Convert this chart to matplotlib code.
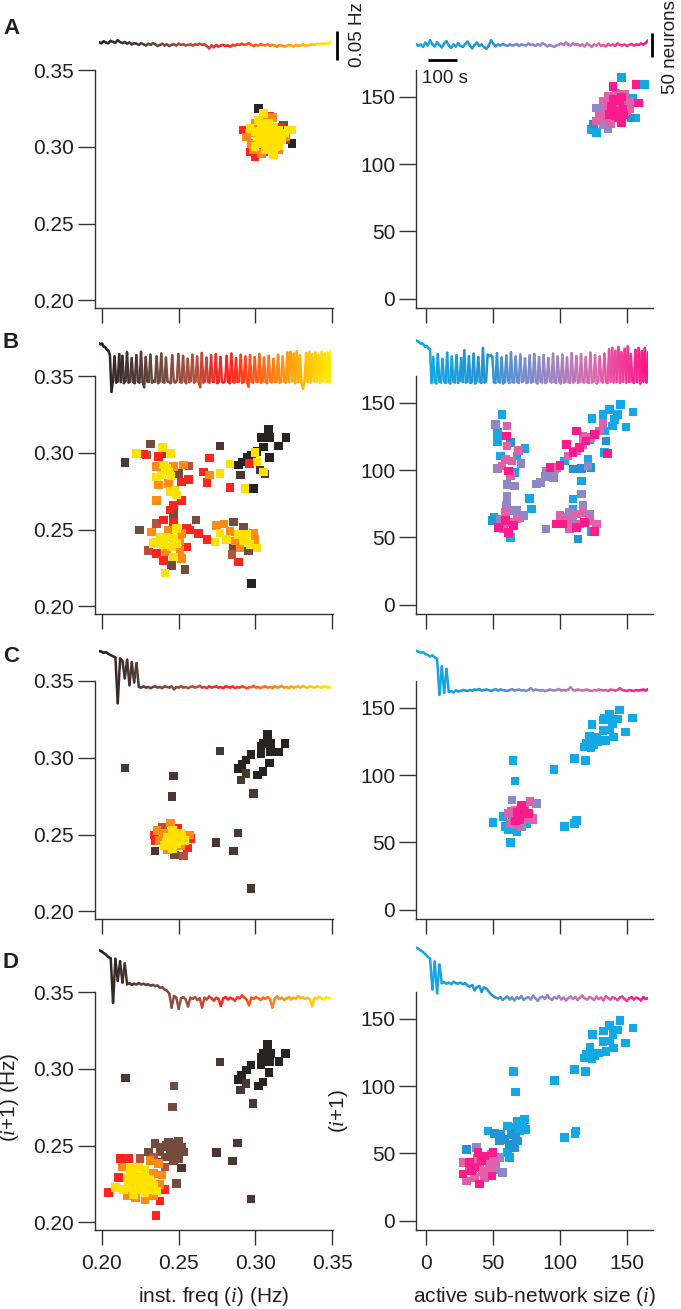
import numpy as np
import matplotlib
matplotlib.use('Agg')
import matplotlib.pyplot as plt
from matplotlib.collections import LineCollection
from matplotlib.colors import LinearSegmentedColormap
from matplotlib.ticker import FormatStrFormatter

plt.rcParams['font.family'] = ['Liberation Sans', 'DejaVu Sans']
plt.rcParams['mathtext.fontset'] = 'custom'
plt.rcParams['mathtext.it'] = 'Liberation Serif:italic'
plt.rcParams['mathtext.rm'] = 'Liberation Sans'

# ---------------- data ----------------
# time traces (evenly sampled over ~800 s)
freq_trace_A = [
    0.310, 0.308, 0.311, 0.309, 0.308, 0.312, 0.310, 0.309, 0.313, 0.310,
    0.308, 0.310, 0.307, 0.309, 0.306, 0.308, 0.307, 0.305, 0.308, 0.306,
    0.304, 0.307, 0.305, 0.308, 0.306, 0.303, 0.305, 0.307, 0.304, 0.306,
    0.303, 0.305, 0.306, 0.304, 0.307, 0.305, 0.306, 0.304, 0.305, 0.306,
    0.304, 0.306, 0.305, 0.307, 0.305, 0.306, 0.303, 0.299, 0.304, 0.301,
    0.305, 0.302, 0.304, 0.305, 0.303, 0.304, 0.302, 0.305, 0.304, 0.306,
    0.305, 0.307, 0.305, 0.306, 0.308, 0.305, 0.303, 0.305, 0.304, 0.306,
    0.305, 0.304, 0.306, 0.303, 0.305, 0.304, 0.302, 0.305, 0.304, 0.302,
    0.303, 0.305, 0.304, 0.302, 0.305, 0.303, 0.304, 0.306, 0.303, 0.304,
    0.305, 0.306, 0.305, 0.307, 0.306, 0.307, 0.306, 0.308, 0.307, 0.311]
freq_trace_B = [
    0.312, 0.310, 0.311, 0.306, 0.305, 0.301, 0.299, 0.292, 0.228, 0.247,
    0.289, 0.244, 0.246, 0.293, 0.245, 0.290, 0.243, 0.247, 0.296, 0.244,
    0.246, 0.286, 0.245, 0.243, 0.291, 0.246, 0.244, 0.297, 0.245, 0.236,
    0.288, 0.246, 0.245, 0.292, 0.244, 0.247, 0.245, 0.289, 0.243, 0.246,
    0.294, 0.245, 0.244, 0.287, 0.246, 0.245, 0.243, 0.291, 0.246, 0.244,
    0.248, 0.293, 0.245, 0.244, 0.290, 0.246, 0.243, 0.285, 0.245, 0.247,
    0.292, 0.244, 0.246, 0.289, 0.245, 0.236, 0.295, 0.244, 0.246, 0.287,
    0.245, 0.244, 0.291, 0.246, 0.245, 0.293, 0.243, 0.246, 0.288, 0.245,
    0.244, 0.247, 0.290, 0.245, 0.243, 0.294, 0.246, 0.244, 0.286, 0.245,
    0.246, 0.292, 0.244, 0.245, 0.289, 0.246, 0.237, 0.291, 0.245, 0.244,
    0.288, 0.246, 0.245, 0.293, 0.244, 0.246, 0.287, 0.245, 0.243, 0.290,
    0.246, 0.244, 0.285, 0.245, 0.246, 0.292, 0.244, 0.245, 0.289, 0.246,
    0.244, 0.296, 0.245, 0.297, 0.246, 0.294, 0.243, 0.298, 0.245, 0.291,
    0.244, 0.233, 0.246, 0.295, 0.245, 0.297, 0.244, 0.293, 0.246, 0.296,
    0.245, 0.292, 0.244, 0.297, 0.246, 0.294, 0.245, 0.296, 0.244, 0.298]
freq_trace_C = [
    0.309, 0.308, 0.306, 0.307, 0.304, 0.302, 0.300, 0.298, 0.219, 0.296,
    0.292, 0.262, 0.294, 0.250, 0.290, 0.255, 0.288, 0.247, 0.246, 0.248,
    0.246, 0.247, 0.245, 0.247, 0.248, 0.246, 0.247, 0.245, 0.248, 0.247,
    0.246, 0.248, 0.243, 0.247, 0.246, 0.248, 0.246, 0.247, 0.245, 0.247,
    0.248, 0.246, 0.247, 0.249, 0.246, 0.247, 0.245, 0.248, 0.246, 0.247,
    0.248, 0.246, 0.247, 0.245, 0.248, 0.247, 0.246, 0.248, 0.245, 0.247,
    0.246, 0.248, 0.247, 0.245, 0.246, 0.247, 0.249, 0.246, 0.247, 0.245,
    0.247, 0.248, 0.246, 0.247, 0.245, 0.248, 0.246, 0.247, 0.249, 0.246,
    0.247, 0.245, 0.248, 0.246, 0.247, 0.248, 0.246, 0.249, 0.247, 0.246,
    0.248, 0.247, 0.246, 0.248, 0.247, 0.246, 0.248, 0.247, 0.246, 0.247]
freq_trace_D = [
    0.311, 0.309, 0.306, 0.303, 0.299, 0.297, 0.220, 0.296, 0.258, 0.292,
    0.255, 0.288, 0.252, 0.254, 0.251, 0.253, 0.252, 0.254, 0.252, 0.253,
    0.251, 0.252, 0.250, 0.251, 0.249, 0.250, 0.246, 0.247, 0.243, 0.241,
    0.236, 0.212, 0.232, 0.229, 0.210, 0.228, 0.230, 0.226, 0.214, 0.229,
    0.227, 0.230, 0.225, 0.228, 0.212, 0.229, 0.226, 0.231, 0.228, 0.224,
    0.229, 0.227, 0.215, 0.228, 0.230, 0.226, 0.229, 0.227, 0.224, 0.230,
    0.228, 0.233, 0.229, 0.226, 0.216, 0.229, 0.227, 0.230, 0.228, 0.225,
    0.229, 0.227, 0.230, 0.226, 0.212, 0.228, 0.231, 0.227, 0.229, 0.225,
    0.228, 0.230, 0.226, 0.229, 0.227, 0.232, 0.228, 0.230, 0.227, 0.229,
    0.226, 0.214, 0.229, 0.227, 0.231, 0.228, 0.226, 0.230, 0.228, 0.229]

size_trace_A = [
    142, 138, 141, 136, 145, 139, 150, 141, 137, 146,
    140, 135, 143, 148, 139, 134, 141, 137, 144, 138,
    136, 142, 147, 139, 133, 140, 145, 138, 141, 136,
    132, 138, 150, 143, 137, 141, 139, 142, 140, 138,
    141, 139, 140, 142, 138, 141, 140, 139, 143, 140,
    141, 138, 142, 139, 144, 141, 137, 140, 138, 136,
    139, 141, 143, 140, 145, 141, 139, 143, 140, 142,
    138, 141, 137, 143, 140, 136, 141, 139, 143, 138,
    140, 137, 142, 139, 141, 138, 143, 140, 139, 141,
    138, 140, 142, 139, 141, 140, 143, 141, 144, 150]
size_trace_B = [
    147, 145, 143, 140, 141, 137, 133, 135, 130, 128,
    58, 112, 60, 57, 118, 61, 59, 108, 62, 58,
    121, 60, 57, 113, 61, 59, 116, 58, 62, 110,
    60, 126, 59, 61, 114, 58, 60, 119, 57, 62,
    112, 60, 58, 131, 59, 61, 117, 114, 116, 113,
    60, 58, 120, 61, 59, 111, 57, 60, 115, 62,
    58, 122, 60, 59, 113, 61, 58, 117, 60, 62,
    109, 58, 60, 115, 59, 61, 118, 60, 57, 112,
    61, 59, 116, 58, 60, 110, 62, 59, 119, 60,
    58, 113, 61, 57, 117, 59, 61, 111, 60, 58,
    120, 59, 62, 114, 58, 60, 118, 61, 59, 112,
    60, 58, 121, 59, 61, 116, 57, 60, 113, 62,
    59, 119, 60, 58, 128, 61, 131, 59, 125, 60,
    133, 58, 122, 61, 129, 59, 134, 60, 118, 62,
    58, 127, 60, 131, 57, 124, 61, 130, 59, 122]
size_trace_C = [
    150, 148, 146, 147, 143, 141, 138, 140, 136, 133,
    58, 117, 62, 112, 64, 66, 63, 67, 65, 66,
    68, 67, 66, 68, 67, 69, 68, 70, 67, 68,
    69, 68, 66, 68, 70, 67, 69, 68, 67, 66,
    68, 70, 67, 68, 69, 67, 68, 66, 68, 72,
    67, 69, 68, 67, 68, 66, 67, 69, 68, 67,
    68, 70, 67, 68, 67, 69, 74, 68, 67, 69,
    68, 67, 68, 69, 67, 66, 68, 67, 69, 68,
    67, 68, 66, 69, 68, 67, 68, 72, 68, 67,
    66, 68, 67, 66, 68, 67, 68, 69, 67, 70]
size_trace_D = [
    147, 145, 141, 138, 133, 128, 124, 60, 118, 52,
    112, 73, 75, 72, 74, 71, 76, 73, 72, 74,
    71, 73, 68, 66, 69, 58, 65, 67, 55, 64,
    62, 56, 50, 46, 43, 41, 44, 38, 42, 45,
    39, 43, 37, 44, 41, 46, 38, 42, 44, 39,
    47, 41, 36, 43, 45, 40, 48, 42, 38, 44,
    41, 46, 39, 43, 37, 42, 45, 40, 44, 38,
    43, 47, 41, 39, 44, 42, 38, 45, 40, 43,
    37, 46, 42, 39, 44, 41, 38, 43, 45, 40,
    36, 42, 44, 39, 43, 41, 37, 44, 40, 42]

# return-map points: (value i, value i+1, phase of the recording)
# freq phases: k dark, d dark brown, b brown, n brown-red, r red, o orange, y yellow
freq_pts_A = [
    (0.3020, 0.3250, 'k'), (0.3238, 0.3022, 'k'), (0.3194, 0.3043, 'b'), (0.3183, 0.3141, 'b'),
    (0.2921, 0.3109, 'r'), (0.3096, 0.3196, 'r'), (0.2998, 0.2935, 'r'), (0.3052, 0.2967, 'r'),
    (0.2965, 0.2967, 'r'), (0.3160, 0.3130, 'r'),
    (0.2943, 0.3065, 'o'), (0.2976, 0.3022, 'o'), (0.2998, 0.3152, 'o'), (0.3063, 0.3163, 'o'),
    (0.2987, 0.2978, 'o'), (0.3041, 0.2957, 'o'), (0.3151, 0.2978, 'o'), (0.3194, 0.3065, 'o'),
    (0.3110, 0.3190, 'o'), (0.2960, 0.3090, 'o'),
    (0.3041, 0.3109, 'y'), (0.3085, 0.3109, 'y'), (0.3129, 0.3087, 'y'), (0.3063, 0.3065, 'y'),
    (0.3107, 0.3043, 'y'), (0.3041, 0.3022, 'y'), (0.3085, 0.3000, 'y'), (0.3129, 0.3000, 'y'),
    (0.3009, 0.3065, 'y'), (0.3151, 0.3109, 'y'), (0.3052, 0.3217, 'y'), (0.3216, 0.3109, 'y'),
    (0.2965, 0.3120, 'y'), (0.2998, 0.3000, 'y'), (0.3118, 0.2946, 'y'), (0.3172, 0.3043, 'y'),
    (0.3238, 0.3109, 'y'), (0.3085, 0.3150, 'y'), (0.3020, 0.3170, 'y'), (0.3150, 0.3010, 'y'),
    (0.3063, 0.3109, 'y'), (0.3107, 0.3087, 'y'), (0.3020, 0.3043, 'y'), (0.3063, 0.3020, 'y'),
    (0.3107, 0.2980, 'y'), (0.3150, 0.3065, 'y'), (0.3041, 0.3150, 'y'), (0.3190, 0.3090, 'y'),
    (0.3063, 0.2980, 'y'), (0.3000, 0.3100, 'y'), (0.3120, 0.3130, 'y'), (0.3090, 0.3060, 'y')]
freq_pts_B = [
    (0.3085, 0.3152, 'k'), (0.3041, 0.3100, 'k'), (0.3096, 0.3100, 'k'), (0.3150, 0.3043, 'k'),
    (0.3198, 0.3098, 'k'), (0.3091, 0.2970, 'k'), (0.3052, 0.3039, 'k'), (0.3009, 0.3007, 'k'),
    (0.2976, 0.2985, 'k'), (0.2944, 0.2970, 'k'), (0.2911, 0.2941, 'k'), (0.2889, 0.2920, 'k'),
    (0.2987, 0.2767, 'k'), (0.2976, 0.2148, 'k'),
    (0.2904, 0.2854, 'd'), (0.2770, 0.3043, 'd'), (0.2150, 0.2935, 'd'), (0.3063, 0.2861, 'd'),
    (0.3030, 0.2887, 'd'),
    (0.2835, 0.2926, 'y'), (0.2998, 0.3000, 'y'), (0.3009, 0.2941, 'y'), (0.3052, 0.2876, 'y'),
    (0.2933, 0.2767, 'y'), (0.2770, 0.2865, 'y'),
    (0.2961, 0.2930, 'r'), (0.2835, 0.2774, 'r'), (0.2700, 0.2967, 'r'), (0.2661, 0.2876, 'r'),
    (0.2700, 0.2854, 'o'), (0.2683, 0.2806, 'r'),
    (0.2226, 0.2996, 'y'), (0.2274, 0.2991, 'r'), (0.2291, 0.2985, 'n'), (0.2317, 0.3057, 'b'),
    (0.2396, 0.3033, 'y'), (0.2367, 0.2974, 'r'), (0.2411, 0.2996, 'b'), (0.2448, 0.2996, 'y'),
    (0.2530, 0.2920, 'o'), (0.2567, 0.2915, 'n'), (0.2357, 0.2909, 'o'), (0.2400, 0.2920, 'y'),
    (0.2433, 0.2876, 'y'), (0.2389, 0.2854, 'y'), (0.2357, 0.2843, 'y'), (0.2465, 0.2909, 'o'),
    (0.2498, 0.2865, 'b'), (0.2520, 0.2811, 'r'), (0.2563, 0.2826, 'r'), (0.2433, 0.2800, 'o'),
    (0.2367, 0.2789, 'o'), (0.2443, 0.2746, 'y'), (0.2476, 0.2756, 'y'), (0.2357, 0.2691, 'o'),
    (0.2520, 0.2691, 'r'), (0.2465, 0.2659, 'r'), (0.2443, 0.2626, 'r'), (0.2465, 0.2604, 'b'),
    (0.2613, 0.2561, 'b'), (0.2487, 0.2724, 'y'), (0.2420, 0.2900, 'y'), (0.2450, 0.2850, 'y'),
    (0.2243, 0.2496, 'b'), (0.2324, 0.2485, 'o'), (0.2400, 0.2561, 'r'), (0.2465, 0.2550, 'r'),
    (0.2357, 0.2539, 'n'), (0.2433, 0.2496, 'o'), (0.2487, 0.2507, 'y'), (0.2520, 0.2474, 'o'),
    (0.2552, 0.2507, 'r'), (0.2574, 0.2496, 'r'), (0.2378, 0.2452, 'y'), (0.2422, 0.2452, 'y'),
    (0.2465, 0.2441, 'y'), (0.2509, 0.2430, 'o'), (0.2346, 0.2419, 'y'), (0.2400, 0.2398, 'y'),
    (0.2454, 0.2387, 'y'), (0.2509, 0.2365, 'o'), (0.2552, 0.2387, 'r'), (0.2302, 0.2365, 'n'),
    (0.2357, 0.2343, 'r'), (0.2422, 0.2354, 'o'), (0.2465, 0.2322, 'y'), (0.2520, 0.2311, 'o'),
    (0.2400, 0.2300, 'r'), (0.2454, 0.2267, 'b'), (0.2411, 0.2217, 'y'), (0.2541, 0.2239, 'b'),
    (0.2335, 0.2409, 'y'), (0.2487, 0.2409, 'y'),
    (0.2748, 0.2528, 'o'), (0.2796, 0.2535, 'o'), (0.2857, 0.2550, 'b'), (0.2922, 0.2517, 'b'),
    (0.2987, 0.2478, 'o'), (0.2770, 0.2478, 'y'), (0.2835, 0.2489, 'o'), (0.2889, 0.2467, 'y'),
    (0.2944, 0.2467, 'y'), (0.2998, 0.2435, 'o'), (0.2813, 0.2435, 'y'), (0.2867, 0.2424, 'o'),
    (0.2922, 0.2424, 'y'), (0.2965, 0.2402, 'y'), (0.3009, 0.2380, 'y'), (0.2857, 0.2391, 'b'),
    (0.2900, 0.2380, 'o'), (0.2954, 0.2359, 'b'), (0.2846, 0.2337, 'n'), (0.2889, 0.2289, 'r'),
    (0.2628, 0.2474, 'r'), (0.2683, 0.2435, 'r'), (0.2737, 0.2419, 'y')]
freq_pts_C = [
    (0.2150, 0.2933, 'd'), (0.2465, 0.2880, 'd'), (0.2457, 0.2746, 'd'), (0.2770, 0.3043, 'd'),
    (0.2743, 0.2448, 'd'), (0.2885, 0.2511, 'd'), (0.2857, 0.2393, 'd'), (0.2972, 0.2148, 'd'),
    (0.2346, 0.2393, 'd'),
    (0.3080, 0.3152, 'k'), (0.3048, 0.3093, 'k'), (0.3098, 0.3093, 'k'), (0.3193, 0.3093, 'k'),
    (0.3152, 0.3039, 'k'), (0.3098, 0.3039, 'k'), (0.3037, 0.3024, 'k'), (0.2972, 0.3022, 'k'),
    (0.2939, 0.2985, 'k'), (0.2911, 0.2957, 'k'), (0.2885, 0.2930, 'k'), (0.2939, 0.2898, 'd'),
    (0.2906, 0.2854, 'd'), (0.3015, 0.2887, 'k'), (0.3048, 0.2909, 'k'), (0.3091, 0.2967, 'k'),
    (0.2989, 0.2767, 'd'), (0.3037, 0.3072, 'k'),
    (0.2446, 0.2576, 'o'), (0.2396, 0.2550, 'n'), (0.2359, 0.2528, 'o'), (0.2494, 0.2539, 'r'),
    (0.2341, 0.2496, 'r'), (0.2407, 0.2507, 'o'), (0.2461, 0.2528, 'y'), (0.2515, 0.2507, 'y'),
    (0.2570, 0.2496, 'o'), (0.2374, 0.2463, 'o'), (0.2428, 0.2485, 'y'), (0.2483, 0.2476, 'y'),
    (0.2537, 0.2463, 'y'), (0.2580, 0.2476, 'r'), (0.2407, 0.2430, 'y'), (0.2461, 0.2424, 'y'),
    (0.2515, 0.2430, 'o'), (0.2428, 0.2400, 'o'), (0.2472, 0.2367, 'b'), (0.2533, 0.2361, 'n'),
    (0.2559, 0.2413, 'r'), (0.2346, 0.2463, 'r'), (0.2450, 0.2450, 'y'), (0.2490, 0.2440, 'y'),
    (0.2440, 0.2470, 'y'), (0.2480, 0.2500, 'y'), (0.2420, 0.2450, 'y'), (0.2500, 0.2460, 'y'),
    (0.2460, 0.2410, 'y'), (0.2520, 0.2480, 'y')]
freq_pts_D = [
    (0.3078, 0.3159, 'k'), (0.3050, 0.3100, 'k'), (0.3100, 0.3100, 'k'), (0.3195, 0.3100, 'k'),
    (0.3152, 0.3046, 'k'), (0.3093, 0.3046, 'k'), (0.3035, 0.3028, 'k'), (0.2970, 0.3024, 'k'),
    (0.2942, 0.2991, 'k'), (0.2909, 0.2959, 'k'), (0.2888, 0.2930, 'k'), (0.2937, 0.2904, 'd'),
    (0.2903, 0.2861, 'd'), (0.3018, 0.2889, 'k'), (0.3050, 0.2915, 'k'), (0.3089, 0.2974, 'k'),
    (0.2985, 0.2774, 'd'), (0.3039, 0.3074, 'k'),
    (0.2152, 0.2941, 'd'), (0.2470, 0.2887, 'b'), (0.2459, 0.2752, 'b'), (0.2769, 0.3043, 'd'),
    (0.2747, 0.2454, 'd'), (0.2883, 0.2517, 'd'), (0.2851, 0.2400, 'd'), (0.2970, 0.2152, 'd'),
    (0.2520, 0.2354, 'd'), (0.2487, 0.2252, 'b'),
    (0.2303, 0.2459, 'b'), (0.2346, 0.2513, 'b'), (0.2390, 0.2491, 'b'), (0.2433, 0.2524, 'b'),
    (0.2476, 0.2513, 'b'), (0.2520, 0.2491, 'b'), (0.2444, 0.2480, 'b'), (0.2487, 0.2459, 'b'),
    (0.2530, 0.2459, 'b'), (0.2411, 0.2426, 'b'), (0.2465, 0.2404, 'b'), (0.2498, 0.2415, 'b'),
    (0.2379, 0.2459, 'b'), (0.2336, 0.2426, 'n'), (0.2368, 0.2393, 'd'),
    (0.2420, 0.2500, 'b'), (0.2460, 0.2450, 'b'), (0.2500, 0.2530, 'b'),
    (0.2043, 0.2193, 'r'), (0.2351, 0.2043, 'r'), (0.2119, 0.2415, 'r'), (0.2173, 0.2415, 'r'),
    (0.2249, 0.2415, 'n'), (0.2314, 0.2404, 'o'), (0.2368, 0.2383, 'o'), (0.2411, 0.2361, 'n'),
    (0.2130, 0.2361, 'o'), (0.2184, 0.2350, 'y'), (0.2238, 0.2361, 'y'), (0.2281, 0.2339, 'y'),
    (0.2336, 0.2317, 'o'), (0.2390, 0.2307, 'o'), (0.2108, 0.2291, 'r'), (0.2162, 0.2291, 'y'),
    (0.2217, 0.2280, 'y'), (0.2271, 0.2269, 'y'), (0.2325, 0.2259, 'y'), (0.2379, 0.2248, 'o'),
    (0.2411, 0.2215, 'r'), (0.2087, 0.2226, 'y'), (0.2141, 0.2215, 'y'), (0.2195, 0.2226, 'y'),
    (0.2249, 0.2215, 'y'), (0.2303, 0.2215, 'y'), (0.2357, 0.2204, 'y'), (0.2162, 0.2171, 'o'),
    (0.2217, 0.2161, 'o'), (0.2281, 0.2150, 'o'), (0.2336, 0.2171, 'o'), (0.2379, 0.2139, 'r'),
    (0.2206, 0.2183, 'y'), (0.2260, 0.2302, 'y'), (0.2314, 0.2280, 'y'),
    (0.2200, 0.2330, 'y'), (0.2250, 0.2240, 'y'), (0.2280, 0.2190, 'y'), (0.2230, 0.2300, 'y'),
    (0.2170, 0.2250, 'y'), (0.2300, 0.2320, 'o'), (0.2340, 0.2240, 'y')]

# size phases: c cyan, b blue, l lavender, p pink, m magenta
size_pts_A = [
    (145.8, 164.5, 'c'), (163.1, 159.1, 'c'), (123.4, 125.8, 'c'), (127.1, 123.4, 'c'),
    (156.9, 134.4, 'c'), (154.4, 149.3, 'c'), (153.2, 134.4, 'b'), (125.0, 130.0, 'b'),
    (127.1, 141.8, 'l'), (132.1, 129.5, 'l'), (130.0, 136.0, 'l'), (131.0, 141.0, 'l'),
    (136.0, 126.0, 'l'),
    (132.1, 146.8, 'p'), (135.8, 150.5, 'p'), (142.0, 153.0, 'p'), (148.2, 151.7, 'p'),
    (152.0, 146.8, 'p'), (149.5, 139.4, 'p'), (144.5, 135.7, 'p'), (137.1, 132.0, 'p'),
    (129.6, 135.7, 'p'), (127.1, 132.0, 'p'), (134.6, 139.4, 'p'), (140.7, 141.8, 'p'),
    (145.8, 144.3, 'p'), (135.0, 145.0, 'p'), (150.0, 144.0, 'p'), (133.0, 135.0, 'p'),
    (138.0, 130.0, 'p'), (152.0, 141.0, 'p'),
    (139.5, 157.9, 'm'), (156.9, 159.1, 'm'), (158.7, 145.6, 'm'), (145.8, 130.7, 'm'),
    (138.3, 143.1, 'm'), (142.0, 139.4, 'm'), (144.5, 146.8, 'm'), (137.1, 136.9, 'm'),
    (147.0, 140.6, 'm'), (143.2, 134.4, 'm'), (140.0, 148.0, 'm'), (146.0, 150.0, 'm'),
    (141.0, 136.0, 'm'), (148.0, 137.0, 'm')]
size_pts_B = [
    (56.7, 141.4, 'c'), (51.8, 134.0, 'l'), (53.5, 127.8, 'c'), (53.5, 121.1, 'c'),
    (60.4, 132.7, 'p'), (59.9, 125.3, 'm'), (55.5, 110.5, 'c'), (60.4, 117.9, 'p'),
    (62.9, 120.4, 'b'), (59.2, 108.1, 'p'), (64.1, 106.8, 'p'), (56.7, 103.1, 'p'),
    (53.5, 101.1, 'l'), (61.7, 99.4, 'm'), (66.6, 98.2, 'c'), (67.8, 110.5, 'c'),
    (74.0, 115.9, 'c'), (70.8, 105.1, 'l'), (62.9, 95.7, 'p'), (60.4, 89.1, 'l'),
    (65.9, 88.3, 'l'), (60.4, 80.4, 'l'), (69.1, 114.7, 'p'),
    (49.3, 62.4, 'b'), (50.6, 64.9, 'c'), (55.5, 63.6, 'l'), (54.3, 57.5, 'm'),
    (59.2, 68.6, 'p'), (64.1, 69.8, 'l'), (67.8, 69.8, 'l'), (70.3, 64.9, 'l'),
    (59.2, 62.4, 'm'), (62.9, 61.2, 'p'), (58.0, 56.2, 'p'), (61.7, 53.8, 'm'),
    (65.4, 58.7, 'm'), (67.8, 63.6, 'p'), (62.9, 50.1, 'c'), (59.9, 73.5, 'l'),
    (72.8, 66.1, 'l'), (89.6, 56.2, 'l'),
    (78.9, 71.0, 'c'), (77.2, 78.9, 'c'), (85.6, 90.8, 'l'), (88.8, 95.2, 'l'),
    (82.6, 89.6, 'l'), (96.2, 100.7, 'l'), (95.0, 94.5, 'l'), (97.5, 101.9, 'p'),
    (99.9, 103.6, 'm'), (103.6, 106.8, 'c'), (106.1, 110.5, 'p'), (109.8, 113.0, 'm'),
    (112.2, 114.2, 'p'), (114.7, 116.7, 'm'), (117.2, 119.2, 'p'), (119.6, 121.6, 'm'),
    (123.3, 124.1, 'p'), (125.8, 126.6, 'm'), (129.5, 129.0, 'p'), (132.0, 135.2, 'p'),
    (104.8, 119.2, 'm'), (112.2, 129.0, 'm'), (117.2, 125.3, 'p'), (122.1, 122.9, 'c'),
    (124.1, 138.2, 'c'), (132.0, 141.4, 'c'), (136.9, 145.1, 'c'), (145.1, 148.8, 'c'),
    (143.1, 141.4, 'c'), (140.6, 137.7, 'c'), (139.4, 132.7, 'c'), (149.3, 132.2, 'c'),
    (154.7, 143.1, 'c'), (133.2, 129.0, 'c'), (134.5, 121.6, 'b'), (133.2, 113.0, 'c'),
    (135.7, 112.2, 'm'), (120.9, 108.1, 'c'), (123.3, 101.9, 'b'), (115.9, 101.1, 'b'),
    (120.9, 103.1, 'l'), (109.8, 100.7, 'b'), (115.9, 92.0, 'c'), (109.8, 78.5, 'c'),
    (115.9, 82.2, 'l'), (92.5, 101.9, 'm'), (90.0, 99.4, 'l'),
    (99.9, 66.1, 'p'), (102.4, 64.9, 'l'), (107.3, 68.6, 'l'), (112.2, 67.3, 'p'),
    (117.2, 68.6, 'p'), (122.1, 67.3, 'l'), (97.5, 60.0, 'm'), (102.4, 60.0, 'm'),
    (106.1, 62.4, 'p'), (109.8, 61.2, 'l'), (114.7, 60.0, 'p'), (118.4, 61.2, 'm'),
    (122.1, 62.4, 'p'), (127.1, 60.0, 'p'), (107.3, 56.2, 'p'), (112.2, 57.5, 'm'),
    (123.3, 54.3, 'c'), (125.8, 54.3, 'm'), (113.5, 48.8, 'b'), (109.8, 71.0, 'c'),
    (117.2, 73.5, 'l')]
size_pts_C = [
    (64.9, 111.0, 'c'), (66.6, 95.7, 'c'), (50.1, 64.6, 'c'), (62.9, 49.8, 'c'),
    (95.7, 104.1, 'c'), (111.0, 112.2, 'c'), (103.6, 61.7, 'c'), (111.0, 64.1, 'c'),
    (112.2, 66.1, 'c'),
    (119.2, 111.0, 'c'), (118.4, 120.9, 'c'), (120.9, 122.1, 'c'), (123.3, 120.4, 'c'),
    (125.1, 122.9, 'c'), (122.1, 128.8, 'c'), (128.3, 124.6, 'c'), (134.0, 125.8, 'c'),
    (132.0, 133.2, 'c'), (124.1, 137.7, 'c'), (132.5, 141.1, 'c'), (136.9, 145.1, 'c'),
    (144.3, 148.5, 'c'), (143.1, 141.9, 'c'), (139.4, 138.2, 'c'), (136.9, 133.7, 'c'),
    (139.9, 128.3, 'c'), (148.8, 132.0, 'c'), (154.2, 142.6, 'c'), (119.6, 123.4, 'c'),
    (127.1, 128.3, 'c'), (133.2, 142.6, 'c'),
    (57.5, 69.1, 'c'), (59.2, 61.7, 'c'), (61.7, 59.2, 'c'), (67.8, 58.0, 'c'),
    (75.2, 64.1, 'c'), (64.1, 69.1, 'b'),
    (64.1, 81.4, 'l'), (82.6, 78.9, 'l'), (79.7, 66.6, 'l'), (71.5, 61.7, 'l'),
    (61.7, 71.5, 'p'), (66.6, 74.0, 'p'), (71.5, 77.7, 'm'), (77.7, 80.2, 'p'),
    (72.8, 72.8, 'm'), (69.1, 69.1, 'm'), (65.4, 65.4, 'p'), (72.8, 67.8, 'p'),
    (76.5, 71.5, 'm'), (62.9, 64.1, 'p'), (67.8, 62.9, 'p'), (70.3, 74.0, 'm'),
    (79.7, 67.8, 'p'), (68.0, 72.0, 'm'), (74.0, 76.0, 'p'), (70.0, 67.0, 'm'),
    (64.0, 73.0, 'p'), (75.0, 69.0, 'p'), (67.0, 66.0, 'm')]
size_pts_D = [
    (65.2, 111.0, 'c'), (66.7, 95.7, 'c'), (95.9, 104.1, 'c'), (111.0, 112.2, 'c'),
    (103.5, 61.7, 'c'), (111.2, 64.6, 'c'), (112.0, 66.5, 'c'),
    (119.1, 111.0, 'c'), (118.4, 120.9, 'c'), (121.6, 122.1, 'c'), (124.0, 120.4, 'c'),
    (125.8, 122.9, 'c'), (122.3, 128.8, 'c'), (129.0, 124.6, 'c'), (134.4, 125.8, 'c'),
    (132.2, 133.2, 'c'), (124.3, 138.2, 'c'), (132.7, 141.1, 'c'), (137.1, 145.1, 'c'),
    (145.0, 148.8, 'c'), (143.3, 141.9, 'c'), (139.6, 138.2, 'c'), (137.1, 133.7, 'c'),
    (140.1, 128.3, 'c'), (149.0, 132.0, 'c'), (154.4, 143.1, 'c'), (120.0, 123.4, 'c'),
    (46.2, 66.6, 'c'), (51.2, 64.6, 'b'), (54.9, 59.2, 'b'), (61.0, 70.3, 'c'),
    (66.0, 69.1, 'c'), (68.4, 74.0, 'c'), (73.4, 75.2, 'c'), (74.6, 67.8, 'c'),
    (63.5, 64.1, 'b'), (67.2, 61.7, 'b'), (69.7, 66.6, 'c'), (62.3, 56.7, 'b'),
    (66.0, 54.3, 'b'), (61.0, 50.6, 'c'), (62.3, 46.9, 'c'), (68.4, 59.2, 'b'),
    (58.6, 60.4, 'b'), (56.1, 64.1, 'b'), (72.1, 71.9, 'c'),
    (30.1, 53.0, 'b'), (37.6, 54.3, 'l'), (48.7, 49.3, 'l'), (57.3, 35.8, 'l'),
    (52.4, 38.2, 'l'), (54.9, 46.9, 'l'), (27.7, 43.2, 'p'), (27.7, 34.5, 'm'),
    (30.1, 29.6, 'p'), (40.0, 27.1, 'm'), (49.4, 33.3, 'm'), (49.9, 50.6, 'm'),
    (38.8, 50.6, 'm'), (32.6, 43.2, 'm'), (35.1, 37.0, 'p'), (40.0, 39.5, 'p'),
    (41.3, 44.4, 'm'), (45.0, 44.4, 'p'), (46.2, 37.0, 'p'), (43.7, 32.1, 'p'),
    (36.3, 32.1, 'p'), (52.4, 43.2, 'p'), (33.8, 37.0, 'm'), (48.7, 39.5, 'p'),
    (38.0, 46.0, 'p'), (44.0, 48.0, 'm'), (42.0, 36.0, 'p'), (36.0, 40.0, 'm'),
    (47.0, 42.0, 'p'), (32.0, 38.0, 'p'), (50.0, 45.0, 'l')]

freq_phase = {'k': 0.02, 'd': 0.14, 'b': 0.27, 'n': 0.42, 'r': 0.56, 'o': 0.78, 'y': 0.98}
size_phase = {'c': 0.04, 'b': 0.3, 'l': 0.55, 'p': 0.8, 'm': 0.98}

freq_cmap = LinearSegmentedColormap.from_list('freq', [
    (0.0, '#231f20'), (0.25, '#6b4a3f'), (0.42, '#b5523d'), (0.55, '#ff1f1f'),
    (0.78, '#ff8a14'), (1.0, '#ffeb00')])
size_cmap = LinearSegmentedColormap.from_list('size', [
    (0.0, '#12abe8'), (0.3, '#2393d3'), (0.45, '#6f8fcf'), (0.58, '#9a86c3'),
    (0.78, '#dd68ac'), (1.0, '#ff138a')])

# ---------------- layout ----------------
W, H = 681, 1309
fig = plt.figure(figsize=(W / 100, H / 100), dpi=100)
INK = '#231f20'


def px_axes(x0, y0, x1, y1):
    return fig.add_axes([x0 / W, 1 - y1 / H, (x1 - x0) / W, (y1 - y0) / H])


def style_scatter(ax, show_xlabels):
    for s in ['top', 'right']:
        ax.spines[s].set_visible(False)
    for s in ['left', 'bottom']:
        ax.spines[s].set_linewidth(1.0)
        ax.spines[s].set_color('#333333')
    ax.tick_params(axis='y', direction='out', length=12, width=1, color='#333333',
                   labelsize=15, pad=3, labelcolor=INK)
    ax.tick_params(axis='x', direction='out', length=11, width=1, color='#333333',
                   labelsize=15, pad=6, labelcolor=INK, labelbottom=show_xlabels)
    ax.patch.set_alpha(0)


def draw_points(ax, pts, cmap, phase):
    pts = sorted(pts, key=lambda p: phase[p[2]])
    ax.scatter([p[0] for p in pts], [p[1] for p in pts],
               c=[cmap(phase[p[2]]) for p in pts], marker='s', s=38,
               linewidths=0, clip_on=False, zorder=3)


def draw_trace(ax, vals, cmap):
    t = np.linspace(0, 800, len(vals))
    pts = np.column_stack([t, vals])
    segs = np.stack([pts[:-1], pts[1:]], axis=1)
    lc = LineCollection(segs, colors=cmap(np.linspace(0, 1, len(segs))),
                        linewidths=1.8, capstyle='round', joinstyle='round')
    ax.add_collection(lc)


row_tops = [70, 376, 681, 992]
ROW_H = 238
freq_pts = [freq_pts_A, freq_pts_B, freq_pts_C, freq_pts_D]
size_pts = [size_pts_A, size_pts_B, size_pts_C, size_pts_D]
freq_traces = [freq_trace_A, freq_trace_B, freq_trace_C, freq_trace_D]
size_traces = [size_trace_A, size_trace_B, size_trace_C, size_trace_D]
freq_trace_floor = [0.21, 0.2036, 0.2056, 0.1871]   # value at lower edge of trace box
size_trace_floor = [25.4, 10.0, 24.3, -7.9]
HZ_PX = 580.0      # px per Hz in traces
NEU_PX = 0.48      # px per neuron in traces

trace_axes = []
for r, top in enumerate(row_tops):
    last = r == 3
    axl = px_axes(95, top, 333, top + ROW_H)
    axl.set_xlim(0.1955, 0.3505)
    axl.set_ylim(0.195, 0.35)
    axl.set_xticks([0.20, 0.25, 0.30, 0.35])
    axl.set_yticks([0.20, 0.25, 0.30, 0.35])
    axl.xaxis.set_major_formatter(FormatStrFormatter('%.2f'))
    axl.yaxis.set_major_formatter(FormatStrFormatter('%.2f'))
    style_scatter(axl, last)
    draw_points(axl, freq_pts[r], freq_cmap, freq_phase)

    axr = px_axes(416, top, 653, top + ROW_H)
    axr.set_xlim(-7.5, 169.5)
    axr.set_ylim(-7, 170)
    axr.set_xticks([0, 50, 100, 150])
    axr.set_yticks([0, 50, 100, 150])
    style_scatter(axr, last)
    draw_points(axr, size_pts[r], size_cmap, size_phase)

    if last:
        axl.set_xlabel('inst. freq ($i$) (Hz)', fontsize=15, color=INK, labelpad=9)
        axr.set_xlabel('active sub-network size ($i$)', fontsize=15, color=INK, labelpad=9)

    # traces above each return map
    tl = px_axes(99, top - 70, 331, top + 30)
    tl.set_xlim(0, 800)
    fb = freq_trace_floor[r]
    tl.set_ylim(fb, fb + 100 / HZ_PX)
    tl.axis('off')
    draw_trace(tl, freq_traces[r], freq_cmap)

    tr = px_axes(416, top - 70, 648, top + 30)
    tr.set_xlim(0, 800)
    nb = size_trace_floor[r]
    tr.set_ylim(nb, nb + 100 / NEU_PX)
    tr.axis('off')
    draw_trace(tr, size_traces[r], size_cmap)
    trace_axes.append((tl, tr))

# scale bars on the first row
tl, tr = trace_axes[0]
tl.plot([820, 820], [0.279, 0.329], color='black', lw=2, clip_on=False,
        solid_capstyle='butt')
tl.text(893, 0.322, '0.05 Hz', rotation=90, ha='center', va='center',
        fontsize=13.5, color=INK, clip_on=False)
tr.plot([41, 141], [108.7, 108.7], color='black', lw=2, clip_on=False,
        solid_capstyle='butt')
tr.text(21, 71, '100 s', ha='left', va='center', fontsize=13.5, color=INK,
        clip_on=False)
tr.plot([814, 814], [115, 165], color='black', lw=2, clip_on=False,
        solid_capstyle='butt')
tr.text(876, 136, '50 neurons', rotation=90, ha='center', va='center',
        fontsize=13.5, color=INK, clip_on=False)

# panel letters and y labels
for letter, yc in zip('ABCD', [28, 343, 656, 962]):
    fig.text(3 / W, 1 - yc / H, letter, fontsize=16, fontweight='bold',
             ha='left', va='center', color=INK)
fig.text(10 / W, 1 - 1097 / H, '($i$+1) (Hz)', rotation=90, ha='center',
         va='center', fontsize=15, color=INK)
fig.text(338 / W, 1 - 1111 / H, '($i$+1)', rotation=90, ha='center',
         va='center', fontsize=15, color=INK)

fig.savefig('out.png', dpi=100)
